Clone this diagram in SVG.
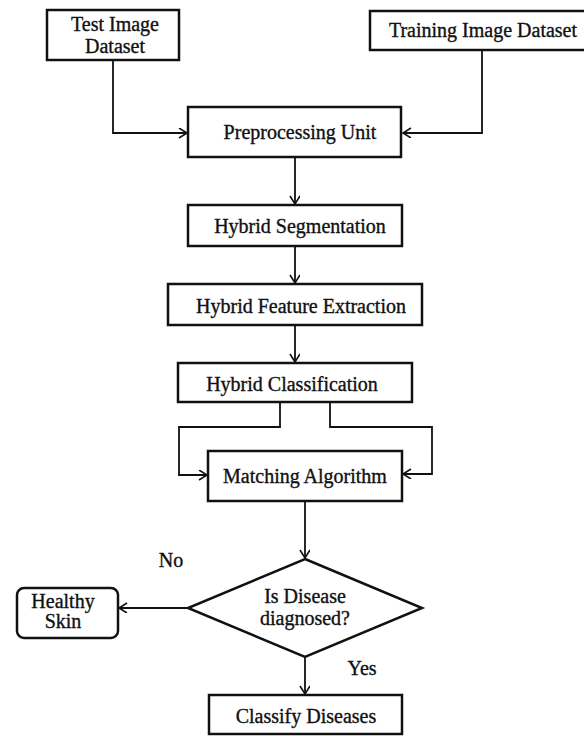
<svg xmlns="http://www.w3.org/2000/svg" width="584" height="736" viewBox="0 0 584 736">
<style>
.box{fill:#fff;stroke:#111;stroke-width:2.5}
.lbl{font-family:"Liberation Serif","Times New Roman",serif;font-size:20px;fill:#111;stroke:#111;stroke-width:0.35;text-anchor:middle}
.conn{fill:none;stroke:#111;stroke-width:1.8}
</style>
<defs>
<marker id="arr" markerUnits="userSpaceOnUse" markerWidth="12" markerHeight="12" refX="9" refY="5" orient="auto">
<path d="M1,0 L9,5 L1,10" fill="none" stroke="#111" stroke-width="1.6"/>
</marker>
</defs>
<rect width="584" height="736" fill="#fff"/>
<g id="connectors">
<polyline class="conn" points="113,60 113,133 187,133" marker-end="url(#arr)"/>
<polyline class="conn" points="482,50 482,133 403,133" marker-end="url(#arr)"/>
<line class="conn" x1="295" y1="157" x2="295" y2="204" marker-end="url(#arr)"/>
<line class="conn" x1="295" y1="246" x2="295" y2="283" marker-end="url(#arr)"/>
<line class="conn" x1="295" y1="325" x2="295" y2="362" marker-end="url(#arr)"/>
<polyline class="conn" points="280,402 280,427 179,427 179,475 207,475" marker-end="url(#arr)"/>
<polyline class="conn" points="330,402 330,427 432,427 432,474 403,474" marker-end="url(#arr)"/>
<line class="conn" x1="305" y1="501" x2="305" y2="558" marker-end="url(#arr)"/>
<line class="conn" x1="188" y1="608" x2="119" y2="608" marker-end="url(#arr)"/>
<line class="conn" x1="305" y1="657" x2="305" y2="694" marker-end="url(#arr)"/>
<text class="lbl" x="171" y="567">No</text>
<text class="lbl" x="362" y="675">Yes</text>
</g>
<g id="test">
<rect class="box" x="47" y="10" width="132" height="50"/>
<text class="lbl" x="115" y="31">Test Image</text>
<text class="lbl" x="115" y="53">Dataset</text>
</g>
<g id="training">
<rect class="box" x="370" y="11" width="220" height="39"/>
<text class="lbl" x="483" y="37">Training Image Dataset</text>
</g>
<g id="preprocessing">
<rect class="box" x="188" y="107" width="213" height="50"/>
<text class="lbl" x="300" y="139">Preprocessing Unit</text>
</g>
<g id="segmentation">
<rect class="box" x="188" y="205" width="214" height="41"/>
<text class="lbl" x="300" y="233">Hybrid Segmentation</text>
</g>
<g id="feature">
<rect class="box" x="168" y="284" width="254" height="41"/>
<text class="lbl" x="301" y="313">Hybrid Feature Extraction</text>
</g>
<g id="classification">
<rect class="box" x="178" y="363" width="234" height="39"/>
<text class="lbl" x="292" y="391">Hybrid Classification</text>
</g>
<g id="matching">
<rect class="box" x="208" y="451" width="194" height="50"/>
<text class="lbl" x="305" y="483">Matching Algorithm</text>
</g>
<g id="decision">
<polygon class="box" points="305,559 422,608 305,657 188,608"/>
<text class="lbl" x="305" y="603">Is Disease</text>
<text class="lbl" x="305" y="625">diagnosed?</text>
</g>
<g id="healthy">
<rect class="box" x="17" y="588" width="101" height="50" rx="7"/>
<text class="lbl" x="63" y="608">Healthy</text>
<text class="lbl" x="63" y="628">Skin</text>
</g>
<g id="classify">
<rect class="box" x="209" y="695" width="193" height="39"/>
<text class="lbl" x="306" y="723">Classify Diseases</text>
</g>
</svg>
